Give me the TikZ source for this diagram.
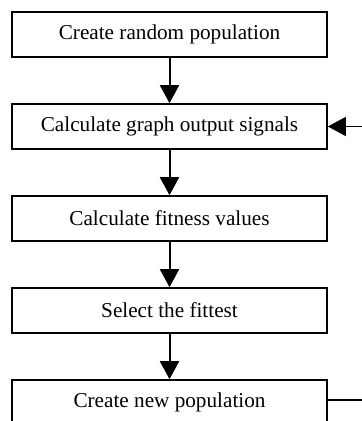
\documentclass[tikz,border=0pt]{standalone}
\usepackage{fontspec}
\setmainfont{Liberation Serif}
\usetikzlibrary{arrows.meta}

\tikzset{
	stepbox/.style={draw, line width=0.8pt, minimum width=157.5pt, minimum height=22.5pt, inner sep=0pt, font=\fontsize{10.6}{12}\selectfont},
	flow/.style={line width=1pt, -{Triangle[length=9pt, width=9.5pt]}},
}

\begin{document}
\begin{tikzpicture}[x=0.5pt, y=-0.5pt]
			\useasboundingbox (0, 0) rectangle (362, 421);
			\clip (0, 0) rectangle (362, 421);
			\node[stepbox] (s1) at (169.5, 34.5) {Create random population};
			\node[stepbox] (s2) at (169.5, 126.5) {Calculate graph output signals};
			\node[stepbox] (s3) at (169.5, 218.5) {Calculate fitness values};
			\node[stepbox] (s4) at (169.5, 310.5) {Select the fittest};
			\node[stepbox] (s5) at (169.5, 402.5) {Create new population};
			\coordinate (back) at (380, 400);
			\draw[flow] (s1) -- (s2);
			\draw[flow] (s2) -- (s3);
			\draw[flow] (s3) -- (s4);
			\draw[flow] (s4) -- (s5);
			\draw[flow, line width=0.7pt] (s5.east |- back) -- (back) |- (s2.east);
		\end{tikzpicture}
\end{document}
